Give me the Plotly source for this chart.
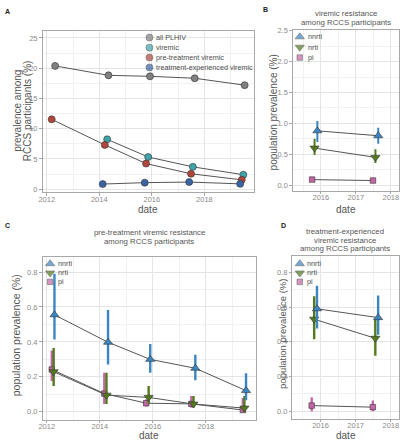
import plotly.graph_objects as go

W, H = 402, 440

# ---------------- data ----------------
# Panel A: prevalence among RCCS participants (%)
plhiv_date = [2012.32, 2014.35, 2015.93, 2017.63, 2019.53]
plhiv = [20.37, 18.81, 18.65, 18.33, 17.19]
plhiv_lo = [19.8, 18.25, 18.1, 17.8, 16.7]
plhiv_hi = [20.95, 19.4, 19.2, 18.85, 17.7]
viremic_date = [2014.30, 2015.86, 2017.56, 2019.48]
viremic = [8.24, 5.32, 3.69, 2.39]
pretreat_date = [2012.19, 2014.21, 2015.78, 2017.49, 2019.42]
pretreat = [11.54, 7.32, 4.23, 2.55, 1.54]
treatexp_date = [2014.13, 2015.73, 2017.42, 2019.36]
treatexp = [0.85, 1.08, 1.18, 0.88]

# Panel B: viremic resistance
b_nnrti_date = [2015.90, 2017.64]
b_nnrti = [0.88, 0.80]
b_nnrti_lo = [0.70, 0.67]
b_nnrti_hi = [1.04, 0.93]
b_nrti_date = [2015.82, 2017.56]
b_nrti = [0.60, 0.45]
b_nrti_lo = [0.49, 0.36]
b_nrti_hi = [0.75, 0.58]
b_pi_date = [2015.75, 2017.49]
b_pi = [0.09, 0.075]
b_pi_lo = [0.065, 0.055]
b_pi_hi = [0.115, 0.10]

# Panel C: pre-treatment viremic resistance
c_nnrti_date = [2012.29, 2014.31, 2015.90, 2017.60, 2019.51]
c_nnrti = [0.555, 0.398, 0.300, 0.249, 0.121]
c_nnrti_lo = [0.414, 0.270, 0.223, 0.181, 0.066]
c_nnrti_hi = [0.790, 0.583, 0.388, 0.326, 0.220]
c_nrti_date = [2012.26, 2014.25, 2015.84, 2017.53, 2019.45]
c_nrti = [0.229, 0.095, 0.082, 0.044, 0.021]
c_nrti_lo = [0.147, 0.045, 0.045, 0.025, 0.0]
c_nrti_hi = [0.365, 0.223, 0.147, 0.090, 0.090]
c_pi_date = [2012.19, 2014.17, 2015.75, 2017.45, 2019.39]
c_pi = [0.242, 0.104, 0.049, 0.045, 0.010]
c_pi_lo = [0.176, 0.044, 0.030, 0.025, 0.0]
c_pi_hi = [0.350, 0.223, 0.070, 0.090, 0.078]

# Panel D: treatment-experienced viremic resistance
d_nnrti_date = [2015.90, 2017.64]
d_nnrti = [0.59, 0.539]
d_nnrti_lo = [0.476, 0.44]
d_nnrti_hi = [0.723, 0.666]
d_nrti_date = [2015.82, 2017.56]
d_nrti = [0.53, 0.42]
d_nrti_lo = [0.415, 0.32]
d_nrti_hi = [0.662, 0.53]
d_pi_date = [2015.75, 2017.49]
d_pi = [0.032, 0.023]
d_pi_lo = [0.0, 0.0]
d_pi_hi = [0.08, 0.061]

groupsA = ["all PLHIV", "viremic", "pre-treatment viremic", "treatment-experienced viremic"]
drugs = ["nnrti", "nrti", "pi"]

year_ticks_long = [2012, 2014, 2016, 2018]
year_minor_long = [2013, 2015, 2017, 2019]
year_ticks_short = [2016, 2017, 2018]
year_minor_short = [2015.5, 2016.5, 2017.5]
a_yticks = [0, 5, 10, 15, 20, 25]
b_yticks = [0.0, 0.5, 1.0, 1.5, 2.0, 2.5]
cd_yticks = [0.0, 0.2, 0.4, 0.6, 0.8]

# ---------------- style ----------------
FONT = "Liberation Sans, Arial, sans-serif"
GREY_PT = "#808080"
TEAL = "#3fa3a9"
RED = "#b0463c"
BLUE = "#3a64a6"
NNRTI = "#3b86c2"
NRTI = "#537b1d"
PI = "#c466a6"
LINE = "#555555"
OUTLINE = "#333333"


def px(x):
    return x / W


def py(y):
    return 1 - y / H


fig = go.Figure()

panels = {
    "": dict(x=(39, 253), y=(27, 190.7), xr=[2011.84, 2019.88], yr=[-0.48, 26.2],
             xt=year_ticks_long, xm=year_minor_long, yt=a_yticks,
             yl=[str(v) for v in a_yticks],
             ym=[2.5, 7.5, 12.5, 17.5, 22.5]),
    "2": dict(x=(292.5, 399.5), y=(26.5, 189.5), xr=[2015.2, 2018.22], yr=[-0.093, 2.51],
              xt=year_ticks_short, xm=year_minor_short, yt=b_yticks,
              yl=["%.1f" % v for v in b_yticks],
              ym=[0.25, 0.75, 1.25, 1.75, 2.25]),
    "3": dict(x=(39, 255), y=(256.7, 421.7), xr=[2011.84, 2019.88], yr=[-0.047, 0.885],
              xt=year_ticks_long, xm=year_minor_long, yt=cd_yticks,
              yl=["%.1f" % v for v in cd_yticks],
              ym=[0.1, 0.3, 0.5, 0.7]),
    "4": dict(x=(292, 399.5), y=(255.7, 420.7), xr=[2015.2, 2018.22], yr=[-0.045, 0.893],
              xt=year_ticks_short, xm=year_minor_short, yt=cd_yticks,
              yl=["%.1f" % v for v in cd_yticks],
              ym=[0.1, 0.3, 0.5, 0.7]),
}

layout_axes = {}
for k, p in panels.items():
    common = dict(
        showgrid=True, gridcolor="#e4e4e4", gridwidth=0.8, zeroline=False,
        showline=True, mirror=True, linecolor="#a8a8a8", linewidth=1,
        ticks="outside", ticklen=2.5, tickwidth=1, tickcolor="#a8a8a8",
        tickfont=dict(family=FONT, size=7.5, color="#8a8a8a"),
        fixedrange=True,
    )
    layout_axes["xaxis" + k] = dict(
        common, domain=[px(p["x"][0]), px(p["x"][1])], range=p["xr"],
        tickvals=p["xt"], ticktext=[str(v) for v in p["xt"]],
        anchor="y" + k, ticklabelstandoff=-3,
        minor=dict(tickvals=p["xm"], showgrid=True, gridcolor="#f1f1f1", gridwidth=0.6, ticks=""),
    )
    layout_axes["yaxis" + k] = dict(
        common, domain=[py(p["y"][1]), py(p["y"][0])], range=p["yr"],
        tickvals=p["yt"], ticktext=p["yl"],
        anchor="x" + k,
        minor=dict(tickvals=p["ym"], showgrid=True, gridcolor="#f1f1f1", gridwidth=0.6, ticks=""),
    )

# overlay pixel axis for legend keys
layout_axes["xaxis5"] = dict(domain=[0, 1], range=[0, W], visible=False, fixedrange=True, anchor="y5")
layout_axes["yaxis5"] = dict(domain=[0, 1], range=[H, 0], visible=False, fixedrange=True, anchor="x5")


def add_series(xs, ys, xa, ya, color, symbol, size, lo=None, hi=None, ebw=2.0):
    fig.add_trace(go.Scatter(x=xs, y=ys, mode="lines", line=dict(color=LINE, width=1),
                             xaxis=xa, yaxis=ya, showlegend=False, hoverinfo="skip"))
    err = None
    if lo is not None:
        err = dict(type="data", symmetric=False,
                   array=[h - v for h, v in zip(hi, ys)],
                   arrayminus=[v - l for v, l in zip(ys, lo)],
                   color=color, thickness=ebw, width=0)
    return dict(x=xs, y=ys, mode="markers", xaxis=xa, yaxis=ya, showlegend=False,
                marker=dict(color=color, symbol=symbol, size=size,
                            line=dict(color=OUTLINE, width=0.6)),
                error_y=err)


marker_traces = []
# Panel A
marker_traces.append(add_series(plhiv_date, plhiv, "x", "y", GREY_PT, "circle", 7, plhiv_lo, plhiv_hi, 1.2))
marker_traces.append(add_series(viremic_date, viremic, "x", "y", TEAL, "circle", 7))
marker_traces.append(add_series(pretreat_date, pretreat, "x", "y", RED, "circle", 7))
marker_traces.append(add_series(treatexp_date, treatexp, "x", "y", BLUE, "circle", 7))
# Panel B
marker_traces.append(add_series(b_pi_date, b_pi, "x2", "y2", PI, "square", 5.5, b_pi_lo, b_pi_hi))
marker_traces.append(add_series(b_nrti_date, b_nrti, "x2", "y2", NRTI, "triangle-down", 8, b_nrti_lo, b_nrti_hi))
marker_traces.append(add_series(b_nnrti_date, b_nnrti, "x2", "y2", NNRTI, "triangle-up", 8, b_nnrti_lo, b_nnrti_hi))
# Panel C
marker_traces.append(add_series(c_pi_date, c_pi, "x3", "y3", PI, "square", 5.5, c_pi_lo, c_pi_hi, 2.4))
marker_traces.append(add_series(c_nrti_date, c_nrti, "x3", "y3", NRTI, "triangle-down", 8, c_nrti_lo, c_nrti_hi, 2.4))
marker_traces.append(add_series(c_nnrti_date, c_nnrti, "x3", "y3", NNRTI, "triangle-up", 8, c_nnrti_lo, c_nnrti_hi, 2.4))
# Panel D
marker_traces.append(add_series(d_pi_date, d_pi, "x4", "y4", PI, "square", 5.5, d_pi_lo, d_pi_hi, 2.4))
marker_traces.append(add_series(d_nrti_date, d_nrti, "x4", "y4", NRTI, "triangle-down", 8, d_nrti_lo, d_nrti_hi, 2.4))
marker_traces.append(add_series(d_nnrti_date, d_nnrti, "x4", "y4", NNRTI, "triangle-up", 8, d_nnrti_lo, d_nnrti_hi, 2.4))

for t in marker_traces:
    fig.add_trace(go.Scatter(**t, hoverinfo="skip"))

annotations = []


def ann(text, x, y, size, color="#555555", xanchor="center", yanchor="middle", angle=0, bold=False):
    if bold:
        text = "<b>" + text + "</b>"
    annotations.append(dict(text=text, x=px(x), y=py(y), xref="paper", yref="paper",
                            showarrow=False, xanchor=xanchor, yanchor=yanchor, textangle=angle,
                            borderpad=0,
                            font=dict(family=FONT, size=size, color=color)))


# manual legends
def legend(x_key, x_text, ys, labels, colors, symbols, sizes):
    fig.add_trace(go.Scatter(x=[x_key] * len(ys), y=ys, mode="markers", xaxis="x5", yaxis="y5",
                             showlegend=False, hoverinfo="skip",
                             marker=dict(color=colors, symbol=symbols, size=sizes,
                                         line=dict(color=OUTLINE, width=0.6))))
    for yy, lab in zip(ys, labels):
        ann(lab, x_text, yy, 7.2, "#4d4d4d", xanchor="left")


legend(147.3, 152.5, [34.0, 44.3, 54.3, 64.3], groupsA,
       [GREY_PT, TEAL, RED, BLUE], ["circle"] * 4, [7] * 4)
drug_colors = [NNRTI, NRTI, PI]
drug_symbols = ["triangle-up", "triangle-down", "square"]
drug_sizes = [8, 8, 5.5]
legend(299.5, 306.5, [33.3, 43.8, 54.3], drugs, drug_colors, drug_symbols, drug_sizes)
legend(46.7, 53.3, [263.3, 272.7, 281.7], drugs, drug_colors, drug_symbols, drug_sizes)
legend(299.5, 305.5, [263.3, 272.7, 281.7], drugs, drug_colors, drug_symbols, drug_sizes)

# panel letters
ann("A", 4, 8, 7, "#222222", bold=True)
ann("B", 265, 6, 7, "#222222", bold=True)
ann("C", 4, 225, 7, "#222222", bold=True)
ann("D", 283, 225, 7, "#222222", bold=True)

# panel titles
ann("viremic resistance", 346, 10, 7.8)
ann("among RCCS participants", 346, 18.5, 7.8)
ann("pre-treatment viremic resistance", 147, 231.7, 7.8)
ann("among RCCS participants", 147, 241, 7.8)
ann("treatment-experienced", 345, 230.7, 7.8)
ann("viremic resistance", 345, 239.5, 7.8)
ann("among RCCS participants", 345, 248.3, 7.8)

# axis titles
ann("date", 146, 208, 10)
ann("date", 346, 208, 10)
ann("date", 147, 437.5, 10)
ann("date", 346, 437.5, 10)
ann("prevalence among", 13, 108.5, 10, angle=-90)
ann("RCCS participants (%)", 23.5, 108.5, 10, angle=-90)
ann("population prevalence (%)", 273.3, 110, 10, angle=-90)
ann("population prevalence (%)", 13, 336, 10.5, angle=-90)
ann("population prevalence (%)", 282, 334, 9.5, angle=-90)

fig.update_layout(
    width=W, height=H, margin=dict(l=0, r=0, t=0, b=0),
    paper_bgcolor="white", plot_bgcolor="rgba(0,0,0,0)",
    showlegend=False, annotations=annotations,
    font=dict(family=FONT),
    **layout_axes,
)

fig.write_html("out.html", config={"displayModeBar": False},
               post_script="document.body.style.margin='0px';")
